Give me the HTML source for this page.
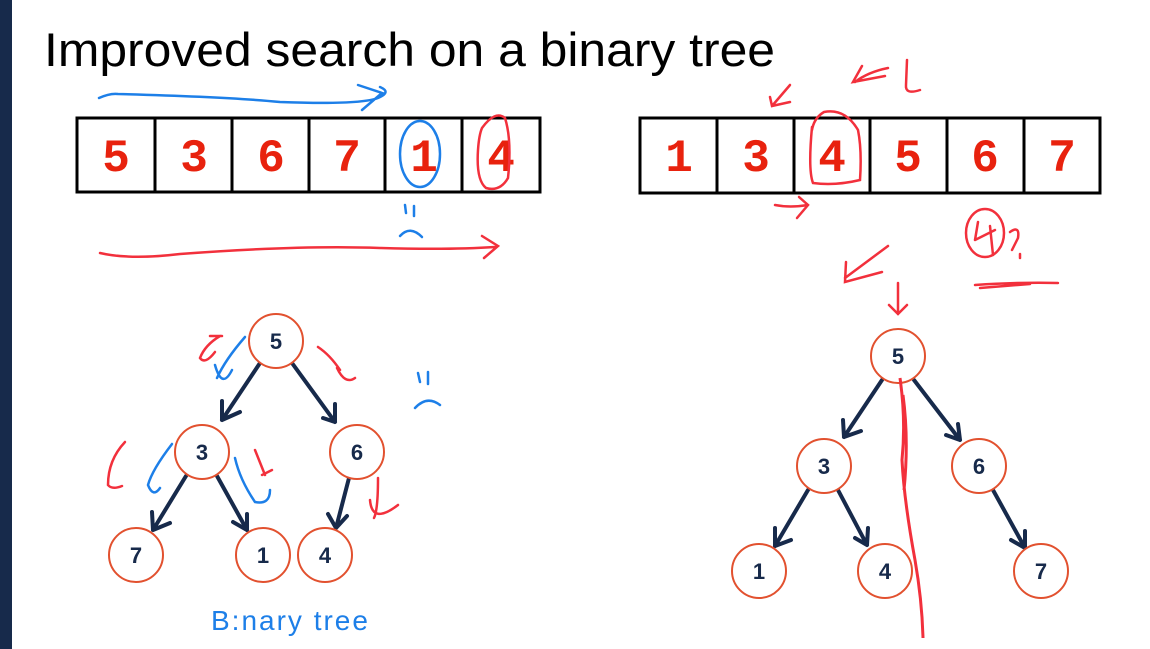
<!DOCTYPE html>
<html><head><style>
html,body{margin:0;padding:0;background:#fff;}
svg{display:block}
</style></head><body>
<svg width="1150" height="649" viewBox="0 0 1150 649" xmlns="http://www.w3.org/2000/svg">
<rect x="0" y="0" width="12" height="649" fill="#172a4b"/>
<text x="44" y="66" font-family="Liberation Sans, sans-serif" font-size="47" fill="#000" textLength="731" lengthAdjust="spacingAndGlyphs">Improved search on a binary tree</text>

<g stroke="#000" stroke-width="3" fill="none">
<rect x="77" y="118" width="463" height="74"/>
<line x1="155" y1="118" x2="155" y2="192"/><line x1="232" y1="118" x2="232" y2="192"/>
<line x1="309" y1="118" x2="309" y2="192"/><line x1="385" y1="118" x2="385" y2="192"/>
<line x1="462" y1="118" x2="462" y2="192"/>
<rect x="640" y="118" width="460" height="75"/>
<line x1="717" y1="118" x2="717" y2="193"/><line x1="794" y1="118" x2="794" y2="193"/>
<line x1="870" y1="118" x2="870" y2="193"/><line x1="947" y1="118" x2="947" y2="193"/>
<line x1="1024" y1="118" x2="1024" y2="193"/>
</g>
<g font-family="Liberation Mono, monospace" font-weight="bold" font-size="46" fill="#e8220e" text-anchor="middle">
<text x="116" y="171">5</text><text x="194" y="171">3</text><text x="271" y="171">6</text>
<text x="347" y="171">7</text><text x="424" y="171">1</text><text x="501" y="171">4</text>
<text x="679" y="171">1</text><text x="756" y="171">3</text><text x="832" y="171">4</text>
<text x="908" y="171">5</text><text x="985" y="171">6</text><text x="1062" y="171">7</text>
</g>

<g stroke="#1d7fe8" stroke-width="2.5" fill="none" stroke-linecap="round">
<path d="M99 98 Q110 93 118 94 Q230 97 280 102 Q360 105 378 98 Q392 92 380 87 M358 85 L382 93 L362 110"/>
<ellipse cx="420" cy="154" rx="20" ry="33"/>
<path d="M405 205 L406 213 M414 206 L414 216 M400 236 Q410 225 422 237"/>
</g>
<g stroke="#f2303c" stroke-width="2.5" fill="none" stroke-linecap="round">
<path d="M482 128 Q495 110 505 118 Q512 140 508 178 Q500 192 486 188 Q476 180 478 150 Q479 135 482 128"/>
<path d="M100 253 Q130 260 180 254 Q300 245 380 248 Q450 250 495 247 M482 236 L498 246 L484 258"/>
<path d="M812 127 Q808 170 813 183 Q835 186 860 180 Q862 150 858 130 Q845 108 824 112 Q814 118 812 130"/>
<path d="M790 85 L772 106 M770 97 L772 106 L790 102"/>
<path d="M888 68 Q868 72 855 82 M862 66 L853 82 L885 76"/>
<path d="M907 60 L906 85 Q905 95 920 90"/>
<path d="M775 205 Q790 208 808 205 M799 197 L808 205 L797 218"/>
<ellipse cx="985" cy="233" rx="19" ry="24"/>
<path d="M975 240 L978 222 M975 240 L995 230 M990 226 L993 255 M1010 232 Q1020 225 1018 238 Q1013 248 1012 250 M1020 254 L1020 258"/>
<path d="M975 285 Q1020 282 1058 283 M980 288 L1030 284"/>
<path d="M888 246 L845 278 M846 262 L845 282 L882 272"/>
<path d="M898 283 L898 314 M889 305 L898 314 L907 305"/>
<path d="M220 336 Q205 345 200 358 Q205 365 215 352 M210 336 L222 336"/>
<path d="M318 347 Q330 355 340 370 M337 368 Q345 385 355 378"/>
<path d="M125 442 Q108 460 108 485 Q112 490 122 486"/>
<path d="M255 450 L265 475 M262 475 L272 470"/>
<path d="M378 478 Q378 510 374 518 M370 500 Q372 525 398 505"/>
</g>
<g stroke="#1d7fe8" stroke-width="2.5" fill="none" stroke-linecap="round">
<path d="M245 337 Q225 360 217 378 M215 365 Q222 390 232 370"/>
<path d="M172 444 Q152 470 148 485 Q153 498 160 488"/>
<path d="M235 458 Q240 480 255 502 Q270 505 270 490"/>
<path d="M418 373 L420 382 M428 372 L428 384 M415 408 Q427 395 440 405"/>
</g>
<text x="211" y="630" font-family="Liberation Sans, sans-serif" font-size="28" fill="#1d7fe8" letter-spacing="2">B:nary tree</text>

<g stroke="#172a4b" stroke-width="4" fill="none" stroke-linecap="round" stroke-linejoin="round">
<path d="M260 363 L222 420 M222 401 L222 420 L240 412"/>
<path d="M292 363 L335 422 M323 418 L335 422 L335 404"/>
<path d="M186 476 L153 530 M152 512 L153 530 L170 523"/>
<path d="M217 476 L247 530 M233 522 L247 530 L247 514"/>
<path d="M349 478 L336 528 M328 514 L336 528 L347 516"/>
<path d="M882 380 L844 437 M843 420 L844 437 L861 431"/>
<path d="M914 380 L960 440 M946 435 L960 440 L958 424"/>
<path d="M808 490 L775 546 M775 528 L775 546 L791 540"/>
<path d="M838 490 L867 545 M855 538 L867 545 L868 528"/>
<path d="M993 490 L1025 548 M1011 540 L1025 548 L1025 531"/>
</g>
<g stroke="#e2512f" stroke-width="2" fill="#fff">
<circle cx="276" cy="341" r="27"/><circle cx="202" cy="452" r="27"/><circle cx="357" cy="452" r="27"/>
<circle cx="136" cy="555" r="27"/><circle cx="263" cy="555" r="27"/><circle cx="325" cy="555" r="27"/>
<circle cx="898" cy="356" r="27"/><circle cx="824" cy="466" r="27"/><circle cx="979" cy="466" r="27"/>
<circle cx="759" cy="571" r="27"/><circle cx="885" cy="571" r="27"/><circle cx="1041" cy="571" r="27"/>
</g>
<path d="M900 378 Q906 420 902 460 Q904 500 915 560 Q922 600 923 638 M903 395 Q909 440 904 490" stroke="#f2303c" stroke-width="3" fill="none"/>
<g font-family="Liberation Sans, sans-serif" font-weight="bold" font-size="22" fill="#172a4b" text-anchor="middle">
<text x="276" y="349">5</text><text x="202" y="460">3</text><text x="357" y="460">6</text>
<text x="136" y="563">7</text><text x="263" y="563">1</text><text x="325" y="563">4</text>
<text x="898" y="364">5</text><text x="824" y="474">3</text><text x="979" y="474">6</text>
<text x="759" y="579">1</text><text x="885" y="579">4</text><text x="1041" y="579">7</text>
</g>
</svg>
</body></html>
